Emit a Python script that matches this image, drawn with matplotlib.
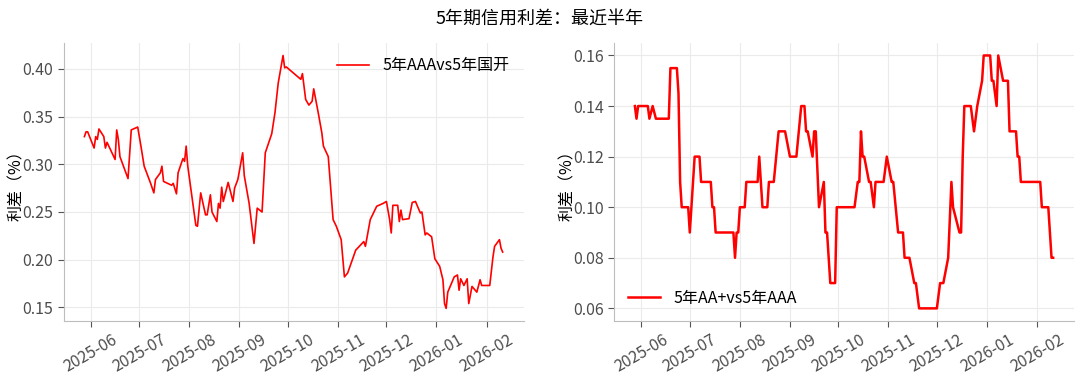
import pandas as pd
import matplotlib
matplotlib.use("Agg")
import matplotlib.pyplot as plt
import matplotlib.dates as mdates

plt.rcParams['font.family'] = ['Noto Sans CJK SC', 'DejaVu Sans']
plt.rcParams['axes.unicode_minus'] = False

# 5年AAA vs 5年国开
aaa_dates = [
    "2025-05-28", "2025-05-29", "2025-05-30", "2025-06-03", "2025-06-04", "2025-06-05",
    "2025-06-06", "2025-06-09", "2025-06-10", "2025-06-11", "2025-06-16", "2025-06-17",
    "2025-06-18", "2025-06-19", "2025-06-24", "2025-06-26", "2025-06-30", "2025-07-02",
    "2025-07-04", "2025-07-08", "2025-07-10", "2025-07-11", "2025-07-14", "2025-07-15",
    "2025-07-16", "2025-07-21", "2025-07-22", "2025-07-24", "2025-07-25", "2025-07-28",
    "2025-07-29", "2025-07-30", "2025-07-31", "2025-08-05", "2025-08-06", "2025-08-08",
    "2025-08-11", "2025-08-12", "2025-08-14", "2025-08-15", "2025-08-18", "2025-08-19",
    "2025-08-20", "2025-08-21", "2025-08-22", "2025-08-25", "2025-08-28", "2025-08-29",
    "2025-08-31", "2025-09-03", "2025-09-04", "2025-09-07", "2025-09-10", "2025-09-12",
    "2025-09-15", "2025-09-17", "2025-09-21", "2025-09-23", "2025-09-25", "2025-09-28",
    "2025-09-29", "2025-09-30", "2025-10-09", "2025-10-10", "2025-10-12", "2025-10-14",
    "2025-10-16", "2025-10-17", "2025-10-20", "2025-10-22", "2025-10-23", "2025-10-26",
    "2025-10-29", "2025-10-31", "2025-11-03", "2025-11-05", "2025-11-07", "2025-11-12",
    "2025-11-17", "2025-11-18", "2025-11-21", "2025-11-25", "2025-11-29", "2025-12-01",
    "2025-12-03", "2025-12-04", "2025-12-05", "2025-12-08", "2025-12-09", "2025-12-10",
    "2025-12-11", "2025-12-15", "2025-12-17", "2025-12-19", "2025-12-22", "2025-12-23",
    "2025-12-25", "2025-12-26", "2025-12-29", "2025-12-31", "2026-01-03", "2026-01-05",
    "2026-01-06", "2026-01-07", "2026-01-08", "2026-01-12", "2026-01-14", "2026-01-15",
    "2026-01-16", "2026-01-18", "2026-01-20", "2026-01-21", "2026-01-23", "2026-01-26",
    "2026-01-28", "2026-01-29", "2026-02-03", "2026-02-05", "2026-02-06", "2026-02-09",
    "2026-02-10", "2026-02-11",
]
aaa_values = [
    0.329, 0.334, 0.334, 0.317, 0.329, 0.326,
    0.337, 0.329, 0.317, 0.323, 0.305, 0.336,
    0.326, 0.308, 0.285, 0.336, 0.339, 0.319,
    0.298, 0.280, 0.270, 0.284, 0.291, 0.298,
    0.282, 0.278, 0.280, 0.269, 0.291, 0.306,
    0.303, 0.319, 0.298, 0.236, 0.235, 0.270,
    0.247, 0.247, 0.268, 0.250, 0.240, 0.259,
    0.254, 0.276, 0.261, 0.281, 0.261, 0.275,
    0.284, 0.312, 0.288, 0.259, 0.217, 0.254,
    0.250, 0.312, 0.332, 0.354, 0.385, 0.414,
    0.401, 0.402, 0.389, 0.395, 0.368, 0.362,
    0.366, 0.379, 0.352, 0.333, 0.319, 0.308,
    0.242, 0.235, 0.221, 0.182, 0.186, 0.210,
    0.219, 0.214, 0.242, 0.256, 0.259, 0.261,
    0.242, 0.228, 0.257, 0.257, 0.240, 0.252,
    0.242, 0.243, 0.260, 0.261, 0.249, 0.250,
    0.226, 0.228, 0.224, 0.201, 0.193, 0.179,
    0.154, 0.149, 0.166, 0.182, 0.184, 0.168,
    0.180, 0.173, 0.180, 0.154, 0.172, 0.166,
    0.179, 0.173, 0.173, 0.203, 0.214, 0.221,
    0.212, 0.208,
]

# 5年AA+ vs 5年AAA
aap_dates = [
    "2025-05-28", "2025-05-29", "2025-05-30", "2025-06-05", "2025-06-06", "2025-06-08",
    "2025-06-10", "2025-06-18", "2025-06-19", "2025-06-23", "2025-06-24", "2025-06-25",
    "2025-06-26", "2025-06-30", "2025-07-01", "2025-07-02", "2025-07-04", "2025-07-07",
    "2025-07-08", "2025-07-14", "2025-07-15", "2025-07-16", "2025-07-17", "2025-07-28",
    "2025-07-29", "2025-07-30", "2025-07-31", "2025-08-01", "2025-08-04", "2025-08-05",
    "2025-08-12", "2025-08-13", "2025-08-15", "2025-08-18", "2025-08-19", "2025-08-22",
    "2025-08-25", "2025-08-29", "2025-09-01", "2025-09-05", "2025-09-08", "2025-09-10",
    "2025-09-11", "2025-09-12", "2025-09-15", "2025-09-16", "2025-09-17", "2025-09-19",
    "2025-09-22", "2025-09-23", "2025-09-24", "2025-09-26", "2025-09-29", "2025-09-30",
    "2025-10-11", "2025-10-13", "2025-10-14", "2025-10-15", "2025-10-16", "2025-10-17",
    "2025-10-20", "2025-10-21", "2025-10-23", "2025-10-24", "2025-10-29", "2025-10-31",
    "2025-11-03", "2025-11-04", "2025-11-07", "2025-11-10", "2025-11-11", "2025-11-14",
    "2025-11-17", "2025-11-18", "2025-11-20", "2025-12-01", "2025-12-03", "2025-12-05",
    "2025-12-08", "2025-12-10", "2025-12-11", "2025-12-15", "2025-12-16", "2025-12-17",
    "2025-12-18", "2025-12-22", "2025-12-24", "2025-12-26", "2025-12-29", "2025-12-30",
    "2026-01-03", "2026-01-04", "2026-01-05", "2026-01-07", "2026-01-08", "2026-01-11",
    "2026-01-14", "2026-01-15", "2026-01-19", "2026-01-20", "2026-01-21", "2026-01-22",
    "2026-02-03", "2026-02-04", "2026-02-08", "2026-02-10", "2026-02-11",
]
aap_values = [
    0.14, 0.135, 0.14, 0.14, 0.135, 0.14,
    0.135, 0.135, 0.155, 0.155, 0.145, 0.11,
    0.10, 0.10, 0.09, 0.10, 0.12, 0.12,
    0.11, 0.11, 0.10, 0.10, 0.09, 0.09,
    0.08, 0.09, 0.09, 0.10, 0.10, 0.11,
    0.11, 0.12, 0.10, 0.10, 0.11, 0.11,
    0.13, 0.13, 0.12, 0.12, 0.14, 0.14,
    0.13, 0.13, 0.12, 0.13, 0.13, 0.10,
    0.11, 0.09, 0.09, 0.07, 0.07, 0.10,
    0.10, 0.11, 0.11, 0.13, 0.12, 0.12,
    0.11, 0.11, 0.10, 0.11, 0.11, 0.12,
    0.11, 0.11, 0.09, 0.09, 0.08, 0.08,
    0.07, 0.07, 0.06, 0.06, 0.07, 0.07,
    0.08, 0.11, 0.10, 0.09, 0.09, 0.12,
    0.14, 0.14, 0.13, 0.14, 0.15, 0.16,
    0.16, 0.15, 0.15, 0.14, 0.16, 0.15,
    0.15, 0.13, 0.13, 0.12, 0.12, 0.11,
    0.11, 0.10, 0.10, 0.08, 0.08,
]

fig = plt.figure(figsize=(10.8, 3.79), dpi=100)
fig.suptitle("5年期信用利差：最近半年", fontsize=13, y=0.975)

ax1 = fig.add_axes([0.0588, 0.153, 0.426, 0.734])
ax2 = fig.add_axes([0.5685, 0.153, 0.426, 0.734])

ax1.plot(pd.to_datetime(aaa_dates), aaa_values, color='red', linewidth=1.2,
         label='5年AAAvs5年国开')
ax2.plot(pd.to_datetime(aap_dates), aap_values, color='red', linewidth=1.8,
         label='5年AA+vs5年AAA')

for ax in (ax1, ax2):
    ax.xaxis.set_major_locator(mdates.MonthLocator())
    ax.xaxis.set_major_formatter(mdates.DateFormatter('%Y-%m'))
    ax.grid(True, color='#ebebeb', linewidth=0.8)
    ax.set_axisbelow(True)
    ax.spines['top'].set_visible(False)
    ax.spines['right'].set_visible(False)
    ax.spines['left'].set_color('#bdbdbd')
    ax.spines['bottom'].set_color('#bdbdbd')
    ax.tick_params(axis='both', labelsize=11.5, labelcolor='#4d4d4d',
                   color='#555555', length=4)
    ax.set_ylabel('利差（%）', fontsize=11.5)
    ax.yaxis.set_label_coords(-0.083, 0.5)
    for lbl in ax.get_xticklabels():
        lbl.set_rotation(30)

ax1.set_yticks([0.15, 0.20, 0.25, 0.30, 0.35, 0.40])
ax2.set_yticks([0.06, 0.08, 0.10, 0.12, 0.14, 0.16])
ax1.legend(loc='upper right', frameon=False, fontsize=11.5)
ax2.legend(loc='lower left', frameon=False, fontsize=11.5)

fig.savefig('out.png', dpi=100)
